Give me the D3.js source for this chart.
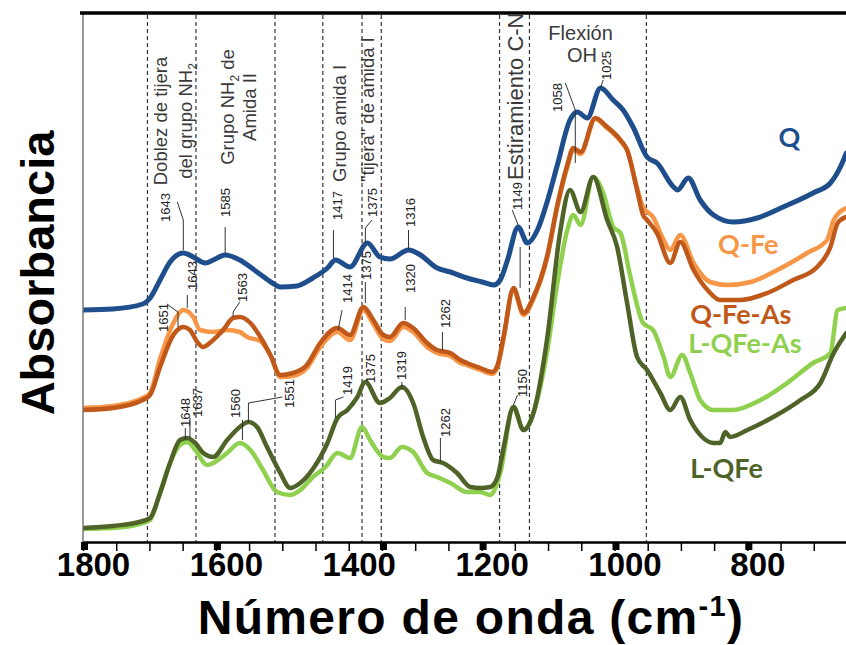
<!DOCTYPE html>
<html>
<head>
<meta charset="utf-8">
<script src="https://d3js.org/d3.v7.min.js"></script>
<style>
  body { margin: 0; background: #fff; }
  text { font-family: "Liberation Sans", Arial, sans-serif; }
</style>
</head>
<body>
<div id="chart"></div>
<script>
// FTIR spectra, wavenumber (cm-1) vs absorbance (arbitrary units, stacked)
var seriesNames = ["Q", "Q-Fe", "Q-Fe-As", "L-QFe-As", "L-QFe"];
var seriesColors = ["#1f4e8c", "#f79646", "#c0581a", "#8fd14f", "#4f6228"];

var specQ = [[1800,2.33],[1755,2.34],[1710,2.39],[1699,2.45],[1684,2.63],[1669,2.81],[1649,2.90],[1634,2.86],[1616,2.80],[1604,2.83],[1586,2.88],[1564,2.83],[1538,2.71],[1515,2.60],[1503,2.56],[1478,2.57],[1454,2.65],[1432,2.75],[1420,2.83],[1398,2.76],[1372,3.00],[1353,2.86],[1338,2.84],[1310,2.93],[1292,2.88],[1267,2.75],[1247,2.71],[1222,2.65],[1199,2.61],[1182,2.58],[1172,2.63],[1161,2.83],[1145,3.16],[1131,3.00],[1116,3.13],[1101,3.42],[1086,3.78],[1067,4.23],[1056,4.31],[1041,4.25],[1021,4.55],[1002,4.43],[987,4.33],[972,4.16],[951,3.86],[936,3.80],[911,3.56],[905,3.53],[889,3.65],[871,3.43],[851,3.28],[821,3.21],[785,3.25],[746,3.36],[701,3.50],[675,3.60],[660,3.76],[651,3.90]];

var specQFe = [[1800,1.35],[1755,1.37],[1710,1.45],[1699,1.50],[1684,1.84],[1664,2.20],[1649,2.33],[1634,2.26],[1624,2.13],[1604,2.11],[1583,2.13],[1564,2.11],[1553,2.06],[1533,2.02],[1518,1.88],[1503,1.66],[1484,1.67],[1463,1.75],[1443,1.96],[1417,2.11],[1398,2.03],[1378,2.33],[1363,2.19],[1348,2.04],[1338,2.02],[1318,2.16],[1303,2.11],[1282,1.96],[1267,1.90],[1247,1.87],[1232,1.80],[1222,1.78],[1202,1.73],[1184,1.69],[1176,1.76],[1167,2.04],[1152,2.53],[1137,2.28],[1122,2.44],[1101,2.86],[1086,3.36],[1071,3.76],[1062,3.93],[1051,3.89],[1029,4.24],[1011,4.15],[991,4.02],[981,3.93],[966,3.55],[957,3.36],[942,3.26],[926,3.03],[916,2.93],[901,3.08],[881,2.80],[856,2.61],[830,2.58],[795,2.61],[755,2.73],[710,2.90],[680,3.03],[670,3.23],[651,3.35]];

var specQFeAs = [[1800,1.33],[1755,1.35],[1710,1.43],[1699,1.48],[1684,1.76],[1664,2.08],[1649,2.16],[1639,2.13],[1628,2.01],[1619,1.96],[1604,2.03],[1589,2.13],[1574,2.25],[1564,2.26],[1548,2.20],[1533,2.06],[1518,1.88],[1503,1.68],[1484,1.70],[1463,1.78],[1443,2.00],[1417,2.15],[1398,2.08],[1378,2.36],[1363,2.23],[1348,2.08],[1338,2.06],[1318,2.20],[1303,2.15],[1282,2.00],[1267,1.93],[1247,1.90],[1232,1.83],[1222,1.80],[1202,1.75],[1184,1.71],[1176,1.78],[1167,2.06],[1152,2.55],[1137,2.30],[1122,2.46],[1101,2.88],[1086,3.38],[1071,3.78],[1062,3.95],[1051,3.91],[1029,4.25],[1011,4.16],[991,4.03],[981,3.93],[966,3.53],[957,3.28],[951,3.23],[936,3.10],[916,2.80],[901,3.01],[881,2.73],[860,2.53],[841,2.43],[811,2.43],[770,2.50],[731,2.63],[695,2.76],[675,2.96],[664,3.20],[651,3.26]];

var specLQFeAs = [[1800,0.14],[1755,0.15],[1710,0.20],[1699,0.23],[1684,0.50],[1669,0.80],[1654,0.98],[1643,1.01],[1631,0.93],[1613,0.78],[1604,0.80],[1583,0.90],[1564,1.00],[1548,0.93],[1529,0.73],[1508,0.51],[1488,0.48],[1473,0.53],[1454,0.66],[1435,0.76],[1417,0.90],[1398,0.85],[1380,1.16],[1368,1.03],[1348,0.86],[1338,0.85],[1320,0.96],[1303,0.91],[1282,0.70],[1267,0.66],[1247,0.60],[1222,0.51],[1202,0.51],[1187,0.48],[1172,0.70],[1152,1.36],[1137,1.13],[1122,1.30],[1101,1.93],[1086,2.60],[1071,3.13],[1062,3.28],[1051,3.18],[1032,3.66],[1017,3.50],[1002,3.16],[991,3.10],[976,2.66],[957,2.20],[942,2.13],[926,1.86],[916,1.66],[898,1.88],[886,1.70],[871,1.43],[851,1.33],[821,1.33],[780,1.43],[740,1.60],[701,1.80],[675,1.90],[664,2.33],[651,2.35]];

var specLQFe = [[1800,0.15],[1755,0.17],[1710,0.22],[1699,0.25],[1684,0.50],[1669,0.80],[1654,1.03],[1643,1.05],[1631,1.00],[1619,0.90],[1604,0.86],[1583,1.03],[1564,1.16],[1551,1.21],[1538,1.16],[1523,0.96],[1503,0.70],[1488,0.55],[1473,0.60],[1454,0.74],[1432,1.00],[1417,1.25],[1402,1.33],[1387,1.46],[1375,1.61],[1353,1.40],[1338,1.45],[1320,1.56],[1303,1.40],[1288,1.06],[1273,0.83],[1258,0.80],[1237,0.70],[1217,0.56],[1202,0.55],[1187,0.56],[1176,0.66],[1167,0.95],[1152,1.36],[1137,1.13],[1122,1.30],[1101,2.06],[1082,3.10],[1067,3.53],[1051,3.31],[1032,3.66],[1011,3.23],[996,2.96],[981,2.40],[966,1.86],[951,1.73],[931,1.50],[916,1.33],[901,1.46],[886,1.23],[868,1.06],[851,1.00],[841,1.00],[833,1.11],[826,1.06],[800,1.13],[761,1.26],[720,1.43],[690,1.60],[670,1.90],[651,2.10]];

var spectra = [specQ, specQFe, specQFeAs, specLQFeAs, specLQFe];

// axis ticks
var minorTicks = d3.range(1800, 649, -50);
var tickLabels = [1800, 1600, 1400, 1200, 1000, 800];
var thickMarks = [1800, 1600, 1350, 1200, 1000, 800];

// band guide lines (cm-1)
var guideLines = [1703, 1630, 1511, 1439, 1380, 1351, 1173, 1128, 952];

// peak labels: text, wavenumber of text, absorbance at text start, leader path
var peakLabels = [
  ["1643", 1676, 3.21, [[1658,3.41],[1649,3.23],[1649,2.93]]],
  ["1585", 1585, 3.26, [[1586,3.16],[1586,2.90]]],
  ["1417", 1417, 3.23, [[1423,3.13],[1423,2.85]]],
  ["1375", 1365, 3.26, [[1365,3.23],[1375,3.15],[1375,3.00]]],
  ["1316", 1307, 3.16, [[1310,3.13],[1310,2.93]]],
  ["1149", 1146, 3.33, [[1154,3.33],[1145,3.18]]],
  ["1058", 1086, 4.31, [[1074,4.60],[1059,4.33],[1059,3.80]]],
  ["1025", 1012, 4.63, [[1017,4.63],[1021,4.55]]],
  ["1651", 1679, 2.11, [[1672,2.38],[1657,2.31],[1657,2.16]]],
  ["1643", 1636, 2.53, [[1643,2.48],[1643,2.35]]],
  ["1563", 1560, 2.41, [[1564,2.41],[1574,2.31],[1574,2.26]]],
  ["1414", 1402, 2.40, [[1410,2.33],[1416,2.13]]],
  ["1375", 1374, 2.63, [[1375,2.61],[1375,2.40]]],
  ["1320", 1307, 2.50, [[1315,2.36],[1315,2.23]]],
  ["1262", 1255, 2.15, [[1259,2.11],[1259,1.93]]],
  ["1648", 1646, 1.16, [[1646,1.15],[1646,1.03]]],
  ["1637", 1628, 1.26, [[1639,1.25],[1639,1.05]]],
  ["1560", 1571, 1.25, [[1560,1.23],[1560,1.03]]],
  ["1551", 1490, 1.35, [[1500,1.46],[1551,1.40],[1551,1.21]]],
  ["1419", 1402, 1.48, [[1408,1.46],[1420,1.43],[1420,1.25]]],
  ["1375", 1368, 1.60, []],
  ["1319", 1321, 1.63, [[1320,1.61],[1320,1.53]]],
  ["1262", 1255, 1.06, [[1262,1.05],[1262,0.81]]],
  ["1150", 1139, 1.46, [[1146,1.48],[1152,1.38]]],
  ["", 0, 0, [[1142,2.96],[1142,2.55]]]
];

// band assignments (rotated): segments [text, subscript], wavenumber, absorbance, anchor
var bandLabels = [
  [[["Doblez de tijera"]], 1684, 4.22, "middle"],
  [[["del grupo NH"], ["2", true]], 1645, 4.22, "middle"],
  [[["Grupo NH"], ["2", true], [" de"]], 1583, 4.36, "middle"],
  [[["Amida II"]], 1550, 4.36, "middle"],
  [[["Grupo amida I"]], 1414, 3.61, "start"],
  [[["\"tijera\"  de amida I"]], 1372, 3.61, "start"]
];

var legendPos = [[753, 3.96], [844, 2.89], [886, 2.19], [889, 1.90], [886, 0.65]];

var width = 846, height = 645;
var svg = d3.select("#chart").append("svg")
  .attr("width", width).attr("height", height)
  .style("background", "#fff");

var x = d3.scaleLinear().domain([1800, 650]).range([83, 847]);
var y = d3.scaleLinear().domain([0, 5.30]).range([543, 13]);

svg.append("clipPath").attr("id", "plot")
  .append("rect").attr("x", 83).attr("y", 15).attr("width", 764).attr("height", 527);

// guide lines
svg.append("g").selectAll("line").data(guideLines).enter().append("line")
  .attr("x1", function(d) { return x(d); }).attr("x2", function(d) { return x(d); })
  .attr("y1", y(5.28)).attr("y2", y(0))
  .attr("stroke", "#333").attr("stroke-width", 1.2)
  .attr("stroke-dasharray", "4,3");

// spectra
var line = d3.line()
  .x(function(d) { return x(d[0]); })
  .y(function(d) { return y(d[1]); })
  .curve(d3.curveMonotoneX);

svg.append("g").attr("clip-path", "url(#plot)")
  .selectAll("path").data(spectra).enter().append("path")
  .attr("d", line)
  .attr("fill", "none")
  .attr("stroke", function(d, i) { return seriesColors[i]; })
  .attr("stroke-width", function(d, i) { return i == 0 ? 5 : 4.5; })
  .attr("stroke-linejoin", "round")
  .attr("stroke-linecap", "round");

// peak labels
var pk = svg.append("g");
peakLabels.forEach(function(p) {
  if (p[3].length)
    pk.append("path")
      .attr("d", d3.line().x(function(d) { return x(d[0]); }).y(function(d) { return y(d[1]); })(p[3]))
      .attr("fill", "none").attr("stroke", "#333").attr("stroke-width", 1);
  if (p[0])
    pk.append("text")
      .attr("transform", "translate(" + x(p[1]) + "," + y(p[2]) + ") rotate(-90)")
      .attr("dy", "0.35em")
      .attr("font-size", 13).attr("fill", "#222")
      .text(p[0]);
});

// band labels
var bl = svg.append("g");
bandLabels.forEach(function(b) {
  var t = bl.append("text")
    .attr("transform", "translate(" + (x(b[1]) + 6.5) + "," + y(b[2]) + ") rotate(-90)")
    .attr("text-anchor", b[3])
    .attr("font-size", 18.5).attr("fill", "#3a3a3a");
  b[0].forEach(function(seg, i) {
    var s = t.append("tspan").text(seg[0]);
    if (seg[1]) s.attr("font-size", 12).attr("dy", 5);
    else if (i > 0) s.attr("dy", -5);
  });
});

svg.append("g").attr("clip-path", "url(#plot)").append("text")
  .attr("transform", "translate(" + x(1149) + "," + y(3.63) + ") rotate(-90)")
  .attr("dy", "0.35em")
  .attr("font-size", 22).attr("fill", "#3a3a3a")
  .text("Estiramiento C-N");

svg.append("text").attr("x", x(1051)).attr("y", y(5.03))
  .attr("text-anchor", "middle").attr("font-size", 20).attr("fill", "#3a3a3a")
  .text("Flexión");
svg.append("text").attr("x", x(1049)).attr("y", y(4.81))
  .attr("text-anchor", "middle").attr("font-size", 20).attr("fill", "#3a3a3a")
  .text("OH");

// series labels
svg.append("g").selectAll("text").data(seriesNames).enter().append("text")
  .attr("x", function(d, i) { return x(legendPos[i][0]); })
  .attr("y", function(d, i) { return y(legendPos[i][1]); })
  .attr("fill", function(d, i) { return seriesColors[i]; })
  .style("font-family", "Lato, 'Open Sans', sans-serif")
  .style("font-weight", "bold").style("font-size", "27px")
  .text(function(d) { return d; });

// frame
svg.append("line").attr("x1", 83).attr("x2", 83).attr("y1", 13).attr("y2", 542)
  .attr("stroke", "#777").attr("stroke-width", 1.5);
svg.append("line").attr("x1", 80).attr("x2", 846).attr("y1", 13).attr("y2", 13)
  .attr("stroke", "#000").attr("stroke-width", 3.5);

// x axis
var xAxis = svg.append("g").attr("transform", "translate(0,542)")
  .call(d3.axisBottom(x).tickValues(minorTicks).tickSize(9).tickSizeOuter(0).tickFormat(""));
xAxis.select(".domain").attr("stroke", "#000").attr("stroke-width", 2.5);
xAxis.selectAll(".tick line").attr("stroke", "#000").attr("stroke-width", 1.5);

svg.append("g").selectAll("rect").data(thickMarks).enter().append("rect")
  .attr("x", function(d) { return x(d) - 2; }).attr("y", 542)
  .attr("width", 7).attr("height", 8).attr("fill", "#000");

var xLab = svg.append("g").attr("transform", "translate(0,542)")
  .call(d3.axisBottom(x).tickValues(tickLabels).tickSize(0).tickPadding(11).tickFormat(d3.format("d")));
xLab.select(".domain").remove();
xLab.selectAll("text")
  .attr("dx", 10)
  .style("font-family", "'Liberation Sans', Arial, sans-serif")
  .style("font-weight", "bold").style("font-size", "33px").attr("fill", "#000");

// titles
var xt = svg.append("text").attr("x", 471).attr("y", 634)
  .attr("text-anchor", "middle")
  .style("font-weight", "bold").style("font-size", "48px")
  .style("letter-spacing", "1.3px");
xt.append("tspan").text("Número de onda (cm");
xt.append("tspan").attr("dy", -18).style("font-size", "29px").text("-1");
xt.append("tspan").attr("dy", 18).text(")");

svg.append("text")
  .attr("transform", "translate(54,273) rotate(-90)")
  .attr("text-anchor", "middle")
  .style("font-weight", "bold").style("font-size", "47px")
  .text("Absorbancia");
</script>
</body>
</html>
